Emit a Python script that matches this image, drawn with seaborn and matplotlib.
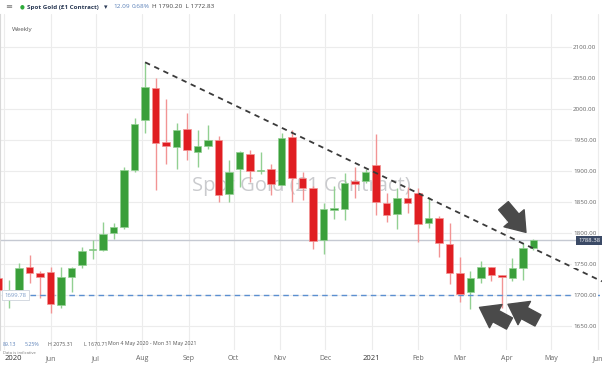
import matplotlib
matplotlib.use('Agg')
import matplotlib.pyplot as plt
import matplotlib.transforms as mtransforms
import pandas as pd
import seaborn as sns

# Weekly OHLC for Spot Gold
week_start = pd.date_range('2020-04-27', periods=52, freq='W-MON')
opens = [1727, 1700, 1708, 1744.6, 1735, 1736.6, 1683.9, 1729.6, 1748, 1773,
         1772.6, 1800.5, 1809, 1901.6, 1982, 2034, 1946, 1938, 1968, 1930.6,
         1940, 1950.5, 1862.9, 1902.7, 1928, 1900, 1902.7, 1877.4, 1955, 1888,
         1872, 1788.7, 1837.6, 1839, 1884, 1884.4, 1910, 1848, 1830, 1857,
         1864, 1815.6, 1824.7, 1781.7, 1735, 1705.4, 1728, 1745.7, 1732, 1727,
         1743, 1776.3]
highs = [1730, 1724, 1751, 1764.5, 1739, 1745.7, 1744.6, 1745, 1778, 1789,
         1818, 1815.6, 1906, 1985, 2075.31, 2050, 2015.6, 1977.4, 1993, 1966,
         1974, 1957, 1917.7, 1932, 1934, 1931, 1911, 1960.8, 1966, 1899,
         1876, 1849, 1876, 1896, 1907, 1903, 1959.7, 1864, 1872, 1874.7,
         1873, 1858.6, 1827.4, 1815.6, 1760.8, 1739, 1755.4, 1745.7, 1732, 1759,
         1784.4, 1790.2]
lows = [1703, 1679, 1700, 1718.8, 1694.6, 1670.71, 1678.5, 1705, 1743, 1757.5,
        1771, 1790, 1806.5, 1899, 1962, 1868.6, 1912, 1902.7, 1918, 1907,
        1935, 1850.5, 1850.5, 1874.7, 1883, 1895, 1861, 1877, 1850.5, 1853,
        1774, 1765.6, 1822, 1821, 1856, 1880, 1829, 1818, 1806, 1831.7,
        1785, 1808.6, 1760.8, 1717.7, 1688, 1677, 1720, 1722.6, 1678.5, 1722.6,
        1724, 1772.83]
closes = [1708, 1708, 1743, 1735, 1728.5, 1685.5, 1729.6, 1743, 1771, 1774,
          1798, 1809, 1901.6, 1975.8, 2036, 1945, 1940, 1965.6, 1934, 1940.3,
          1950.5, 1861, 1899, 1931, 1900, 1902, 1879, 1952.7, 1888, 1872,
          1787.6, 1838.7, 1839.8, 1881, 1879, 1899, 1849.5, 1829, 1856, 1848,
          1814.5, 1823.7, 1784.4, 1735, 1701, 1727, 1744.6, 1732, 1729.6, 1743,
          1776, 1788.38]

# resistance trend line and levels
trend_dates = [pd.Timestamp('2020-08-03'), pd.Timestamp('2021-06-03 16:00')]
trend_prices = [2075.31, 1722]
support_level = 1699.78
last_price = 1788.38

price_ticks = [1650, 1700, 1750, 1800, 1850, 1900, 1950, 2000, 2050, 2100]
month_ticks = pd.date_range('2020-05-01', '2021-06-01', freq='MS')
month_labels = ['2020', 'Jun', 'Jul', 'Aug', 'Sep', 'Oct', 'Nov', 'Dec',
                '2021', 'Feb', 'Mar', 'Apr', 'May', 'Jun']

sns.set_style('white')
plt.rcParams['font.family'] = ['Open Sans', 'DejaVu Sans']

fig = plt.figure(figsize=(6.02, 3.67), dpi=100)
ax = fig.add_axes([0, 17 / 367, 1, 336 / 367])

df = pd.DataFrame({'date': week_start, 'open': opens, 'high': highs,
                   'low': lows, 'close': closes})
df['up'] = df['close'] >= df['open']
df['bottom'] = df[['open', 'close']].min(axis=1)
df['height'] = (df['close'] - df['open']).abs().clip(lower=1.8)

GREEN, RED = '#3a9f3a', '#e01e22'
GREEN_W, RED_W = '#92d092', '#f29494'

# grid
for d in month_ticks:
    ax.axvline(d, color='#ececec', lw=0.8, zorder=0)
for p in price_ticks:
    ax.axhline(p, xmax=0.952, color='#ececec', lw=0.8, zorder=0)

# watermark
ax.text(0.5, 0.488, 'Spot Gold (£1 Contract)', transform=ax.transAxes,
        ha='center', va='center', fontsize=14.5, color='#cacbce', zorder=1)

# wicks and bodies
for up, wick_col, body_col in [(True, GREEN_W, GREEN), (False, RED_W, RED)]:
    sub = df[df['up'] == up]
    ax.vlines(sub['date'], sub['low'], sub['high'], color=wick_col, lw=1, zorder=2)
    ax.bar(sub['date'], sub['height'], bottom=sub['bottom'], width=5,
           color=body_col, edgecolor=wick_col, linewidth=0.5, zorder=3)

# trend line
sns.lineplot(x=trend_dates, y=trend_prices, ax=ax, color='#3a3a3a', lw=1.3,
             zorder=4)
ax.lines[-1].set_dashes([3, 2.6])

# levels
ax.axhline(support_level, xmin=30 / 602, color='#5b8fd0', lw=1,
           dashes=(4, 3), zorder=2)
ax.axhline(last_price, color='#c5c9d2', lw=1, zorder=1.5)

blend = mtransforms.blended_transform_factory(ax.transAxes, ax.transData)
ax.text(0.997, last_price, '1788.38', transform=blend, ha='right', va='center',
        fontsize=4.3, color='white', zorder=6,
        bbox=dict(boxstyle='square,pad=0.35', fc='#3b4a66', ec='none'))
ax.text(0.008, support_level, '1699.78', transform=blend, ha='left', va='center',
        fontsize=4.3, color='#7c9cc8', zorder=6,
        bbox=dict(boxstyle='square,pad=0.4', fc='white', ec='#cdd3dc', lw=0.6))

# arrows
arrow_kw = dict(arrowstyle='simple,head_length=0.7,head_width=1.0,tail_width=0.48',
                color='#4a4a4a', mutation_scale=19, shrinkA=0, shrinkB=0)
arrows = [(('2021-03-30', 1844), ('2021-04-14', 1801)),
          (('2021-04-03', 1654), ('2021-03-14', 1680)),
          (('2021-04-22', 1659), ('2021-04-02', 1685))]
for (t_d, t_p), (h_d, h_p) in arrows:
    ax.annotate('', xy=(pd.Timestamp(h_d), h_p), xytext=(pd.Timestamp(t_d), t_p),
                arrowprops=arrow_kw, zorder=7)

# axes
ax.set_xlim(pd.Timestamp('2020-04-28 05:00'), pd.Timestamp('2021-06-03 17:00'))
ax.set_ylim(1611.3, 2153.2)
ax.set_xticks(month_ticks)
ax.set_xticklabels(month_labels)
ax.tick_params(axis='x', length=0, pad=3.5, labelsize=5, labelcolor='#666666')
xl = ax.get_xticklabels()
xl[0].set_horizontalalignment('left')
for i in (0, 8):
    xl[i].set_color('#333333')
    xl[i].set_fontsize(5.5)

ax.yaxis.tick_right()
ax.set_yticks(price_ticks)
ax.set_yticklabels([f'{p:.2f}' for p in price_ticks])
ax.tick_params(axis='y', length=0, pad=-4, labelsize=4.5, labelcolor='#666666')
for lbl in ax.get_yticklabels():
    lbl.set_horizontalalignment('right')
    lbl.set_bbox(dict(fc='white', ec='none', pad=0.8))
ax.yaxis.set_zorder(5)
for s in ax.spines.values():
    s.set_visible(False)
ax.spines['left'].set_visible(True)
ax.spines['left'].set_color('#d8d8d8')
ax.set_xlabel('')
ax.set_ylabel('')

# footer stats inside the plot
footer = [(3, '89.13', '#5a80b8'), (25, '5.25%', '#5a80b8'),
          (48, 'H 2075.31', '#555555'), (84, 'L 1670.71', '#555555'),
          (108, 'Mon 4 May 2020 - Mon 31 May 2021', '#555555')]
for x, s, c in footer:
    fig.text(x / 602, 1 - 344 / 367, s, fontsize=3.8, color=c, va='center')
fig.text(3 / 602, 1 - 353 / 367, 'Data is indicative', fontsize=3, color='#777777',
         va='center')

# header
hy = 1 - 7 / 367
fig.text(5 / 602, hy, '≡', fontsize=6, color='#777777', va='center',
         family=['DejaVu Sans'])
fig.text(20 / 602, hy, '●', fontsize=4, color='#2eaa3a', va='center',
         family=['DejaVu Sans'])
fig.text(27 / 602, hy, 'Spot Gold (£1 Contract)', fontsize=4.5, color='#2b3a55',
         fontweight='bold', va='center')
fig.text(104 / 602, hy, '▾', fontsize=5, color='#2b3a55', va='center',
         family=['DejaVu Sans'])
fig.text(113 / 602, hy, '12.09', fontsize=4.6, color='#5a80b8', va='center')
fig.text(132 / 602, hy, '0.68%', fontsize=4.6, color='#5a80b8', va='center')
fig.text(152 / 602, hy, 'H 1790.20  L 1772.83', fontsize=4.6, color='#444444',
         va='center')
fig.text(12 / 602, 1 - 30 / 367, 'Weekly', fontsize=4.5, color='#555555',
         va='center')

fig.savefig('out.png', dpi=100)
